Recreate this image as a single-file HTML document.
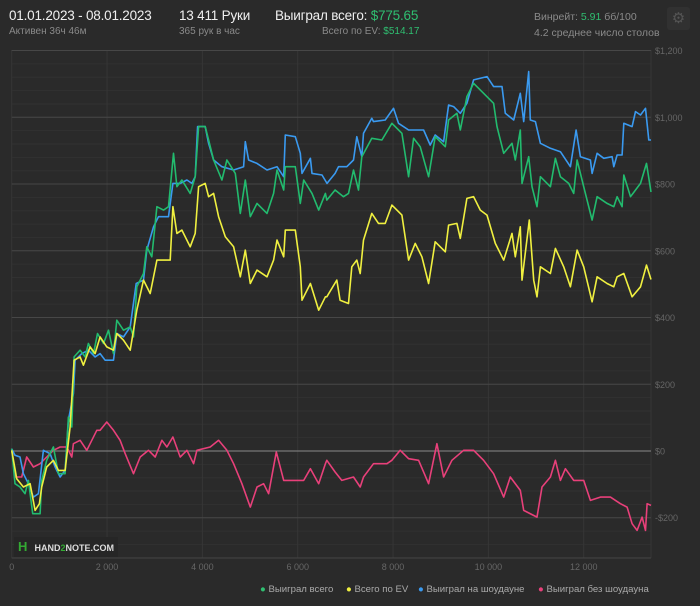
<!DOCTYPE html>
<html><head><meta charset="utf-8">
<style>
body{margin:0;background:#2a2a2a;width:700px;height:606px;overflow:hidden;font-family:"Liberation Sans","Noto Sans CJK SC",sans-serif;}
.t{position:absolute;white-space:nowrap;}
</style></head>
<body>
<div>
<div class="t" style="left:9px;top:8px;font-size:13.5px;letter-spacing:-0.2px;color:#f0f0f0">01.01.2023 - 08.01.2023</div>
<div class="t" style="left:9px;top:26px;font-size:10px;color:#8a8a8a">Активен 36ч 46м</div>
<div class="t" style="left:179px;top:8px;font-size:13.5px;letter-spacing:-0.2px;color:#f0f0f0">13 411 Руки</div>
<div class="t" style="left:179px;top:26px;font-size:10px;color:#8a8a8a">365 рук в час</div>
<div class="t" style="left:275px;top:8px;font-size:13.5px;letter-spacing:-0.2px;color:#f0f0f0">Выиграл всего: <span style="color:#2fbf71">$775.65</span></div>
<div class="t" style="left:322px;top:26px;font-size:10px;color:#8a8a8a">Всего по EV: <span style="color:#2fbf71">$514.17</span></div>
<div class="t" style="left:534px;top:11px;font-size:10.5px;color:#8a8a8a">Винрейт: <span style="color:#2fbf71">5.91</span> бб/100</div>
<div class="t" style="left:534px;top:27px;font-size:10.5px;color:#8a8a8a">4.2 среднее число столов</div>
<div class="t" style="left:667px;top:7px;width:23px;height:23px;border-radius:3px;background:#313131;color:#555;font-size:15px;text-align:center;line-height:23px">⚙</div>
</div>
<svg id="chart" width="700" height="606" style="position:absolute;left:0;top:0"></svg>
<div class="t" style="left:14px;top:537px;height:20px;padding:0 4px;background:#262626;font-size:9px;font-weight:bold;color:#ddd;line-height:20px">
<span style="display:inline-block;width:14px;color:#3a3;font-weight:bold;font-size:13px">H</span> HAND<span style="color:#3a3">2</span>NOTE.COM</div>
<div>
<div class="t" style="left:260px;top:584px;font-size:9.6px;color:#aaa"><span style="color:#2fbf71">●</span> Выиграл всего</div>
<div class="t" style="left:346px;top:584px;font-size:9.6px;color:#aaa"><span style="color:#f0f040">●</span> Всего по EV</div>
<div class="t" style="left:418px;top:584px;font-size:9.6px;color:#aaa"><span style="color:#3a9af0">●</span> Выиграл на шоудауне</div>
<div class="t" style="left:538px;top:584px;font-size:9.6px;color:#aaa"><span style="color:#e8407a">●</span> Выиграл без шоудауна</div>
</div>
<script>
const xTicks=[0,2000,4000,6000,8000,10000,12000];
const xTickLabels=["0","2 000","4 000","6 000","8 000","10 000","12 000"];
const yTicks=[1200,1000,800,600,400,200,0,-200];
const yTickLabels=["$1,200","$1,000","$800","$600","$400","$200","$0","-$200"];
const greenHands=[0,70,175,280,350,441,595,630,735,875,980,1120,1190,1260,1309,1435,1540,1610,1715,1799,1925,2030,2135,2205,2345,2485,2555,2625,2765,2835,2940,3045,3185,3290,3395,3465,3570,3745,3850,3920,4060,4130,4235,4410,4515,4690,4795,4900,5005,5145,5355,5495,5565,5705,5740,5950,6055,6125,6300,6440,6580,6610,6785,6960,7065,7170,7275,7345,7555,7765,7975,8185,8325,8430,8570,8745,8885,9095,9165,9340,9410,9550,9690,9900,10110,10180,10320,10495,10565,10670,10705,10845,10915,11020,11090,11300,11405,11510,11685,11790,11860,12000,12175,12280,12490,12630,12700,12805,12840,12980,13190,13316,13411];
const greenValues=[7,-98,-108,-128,-88,-188,-188,-88,-28,12,-68,-68,102,72,282,302,282,322,292,352,322,362,292,392,362,372,342,492,532,612,582,732,722,732,892,792,812,772,822,972,972,932,872,812,872,832,712,812,702,742,712,772,842,782,852,852,742,812,772,722,772,752,782,762,772,842,782,882,937,932,982,952,822,937,912,822,942,912,992,1012,962,1062,1102,1072,1042,972,892,922,872,962,802,882,792,732,822,792,877,822,802,772,872,792,692,762,742,732,762,732,827,762,802,862,776];
const blueHands=[0,70,175,245,350,455,560,665,805,910,1015,1120,1190,1295,1330,1470,1610,1750,1855,1960,2135,2205,2345,2485,2611,2765,2835,2975,3080,3290,3381,3535,3675,3780,3850,3899,4060,4130,4235,4410,4655,4865,4900,4970,5145,5355,5565,5705,5740,5950,6055,6090,6265,6300,6510,6615,6785,6855,7030,7170,7240,7345,7380,7555,7590,7835,8010,8115,8325,8430,8640,8780,8885,9060,9165,9270,9410,9550,9690,9970,10110,10285,10355,10530,10670,10740,10845,10880,10985,11090,11300,11510,11720,11839,11930,12140,12175,12280,12420,12595,12630,12700,12805,12840,13015,13085,13190,13295,13365,13411];
const blueValues=[7,-13,-18,-68,-98,-138,-128,2,-8,-48,-78,-58,92,172,272,292,302,282,292,272,272,352,342,372,502,512,602,672,702,702,802,802,812,802,822,972,972,922,872,852,842,852,927,872,862,842,852,822,947,942,892,832,877,832,827,802,832,852,852,872,942,882,952,997,987,992,1027,982,962,962,962,917,947,927,1037,1032,1012,1042,1112,1122,1092,1092,1012,992,1072,987,1137,992,987,922,907,897,852,962,882,872,832,892,877,882,852,887,887,982,972,1017,1007,1027,932,932];
const evHands=[0,105,245,385,490,581,630,735,875,980,1120,1225,1309,1435,1505,1645,1750,1855,1995,2135,2205,2345,2485,2625,2765,2905,3045,3185,3325,3381,3465,3570,3745,3850,3920,4060,4130,4235,4340,4480,4655,4795,4900,5005,5145,5355,5495,5565,5705,5740,5950,6055,6090,6265,6440,6580,6610,6820,6890,7065,7135,7240,7310,7380,7555,7695,7835,7975,8185,8325,8465,8605,8745,8885,9095,9165,9340,9410,9550,9690,9830,9970,10145,10320,10495,10565,10670,10705,10859,10950,11020,11090,11300,11405,11580,11720,11860,12000,12175,12280,12490,12630,12700,12840,13015,13190,13316,13411];
const evValues=[2,-83,-108,-98,-178,-158,-108,-48,-28,-58,-58,72,272,282,257,312,292,342,312,302,352,332,302,422,512,472,572,572,572,732,652,662,612,652,792,802,762,772,702,642,612,522,602,502,542,522,572,632,582,662,662,552,452,502,422,462,462,512,452,442,552,572,532,632,712,682,682,737,707,572,622,582,502,627,597,677,682,637,757,762,722,707,622,572,652,582,672,512,692,512,462,552,532,607,552,492,602,552,447,522,502,492,522,532,462,492,557,514];
const nsdHands=[0,70,210,315,455,595,735,875,1015,1155,1260,1295,1435,1575,1680,1785,1855,1995,2135,2275,2380,2555,2695,2870,3010,3150,3255,3381,3535,3675,3815,3885,4165,4340,4515,4655,4830,5005,5145,5285,5390,5551,5705,5915,6125,6265,6440,6580,6610,6785,6925,7170,7310,7380,7590,7870,7975,8150,8325,8535,8745,8920,9060,9235,9480,9690,9900,10110,10320,10460,10670,10740,11020,11125,11300,11405,11510,11615,11790,12000,12140,12350,12560,12770,12910,13015,13120,13225,13295,13330,13411];
const nsdValues=[7,-78,-78,-18,-48,-38,-18,2,12,12,-18,22,32,2,32,62,62,87,62,32,-8,-68,-18,2,-18,32,12,42,-18,2,-38,2,12,32,2,-38,-98,-168,-108,-98,-128,-3,-88,-88,-88,-53,-98,-38,-28,-63,-88,-78,-108,-78,-38,-38,-28,2,-23,-28,-98,22,-78,-28,2,2,-28,-68,-138,-78,-118,-178,-198,-108,-78,-28,-88,-53,-88,-88,-148,-138,-138,-158,-168,-218,-238,-198,-238,-158,-163];

const NS="http://www.w3.org/2000/svg";
const svg=document.getElementById('chart');
const L=11.7,R=651,T=50,B=558;
const xS=h=>L+h*(R-L)/13411;
const yS=v=>451-v*(451-117.3)/1000;
function el(tag,attrs){const e=document.createElementNS(NS,tag);for(const k in attrs)e.setAttribute(k,attrs[k]);svg.appendChild(e);return e;}
for(let v=-320;v<=1200;v+=40){
  const g=el('line',{x1:L,x2:R,y1:yS(v),y2:yS(v),stroke:'#313131',"stroke-width":1});
  
  
}
xTicks.forEach((t,i)=>{
  const g=el('line',{x1:xS(t),x2:xS(t),y1:T,y2:B,stroke:'#363636',"stroke-width":1});
  
  
  const tx=el('text',{x:xS(t),y:570,fill:'#666',"font-size":9,"text-anchor":"middle","font-family":"Liberation Sans, sans-serif"});
  tx.textContent=xTickLabels[i];
  
  
});
{const g=el('line',{x1:R,x2:R,y1:T,y2:B,stroke:'#363636'});


const b=el('line',{x1:L,x2:R,y1:B,y2:B,stroke:'#444'});

}
yTicks.forEach((t,i)=>{
  const g=el('line',{x1:L,x2:R,y1:yS(t),y2:yS(t),stroke:t===0?'#8a8a8a':'#474747',"stroke-width":1});
  
  
  const tx=el('text',{x:655,y:yS(t)+3.5,fill:'#666',"font-size":9,"font-family":"Liberation Sans, sans-serif"});
  tx.textContent=yTickLabels[i];
  
  
});
function series(hands,vals,color,name){
  const d=hands.map((h,i)=>(i?'L':'M')+xS(h).toFixed(1)+' '+yS(vals[i]).toFixed(1)).join(' ');
  const p=el('path',{d:d,fill:'none',stroke:color,"stroke-width":1.6,"stroke-linejoin":"round"});
  
  
}
series(nsdHands,nsdValues,'#e8407a','line-non-showdown');
series(blueHands,blueValues,'#3a9af0','line-showdown');
series(greenHands,greenValues,'#22bb6e','line-total-won');
series(evHands,evValues,'#f0f040','line-ev');
</script>
</body></html>
